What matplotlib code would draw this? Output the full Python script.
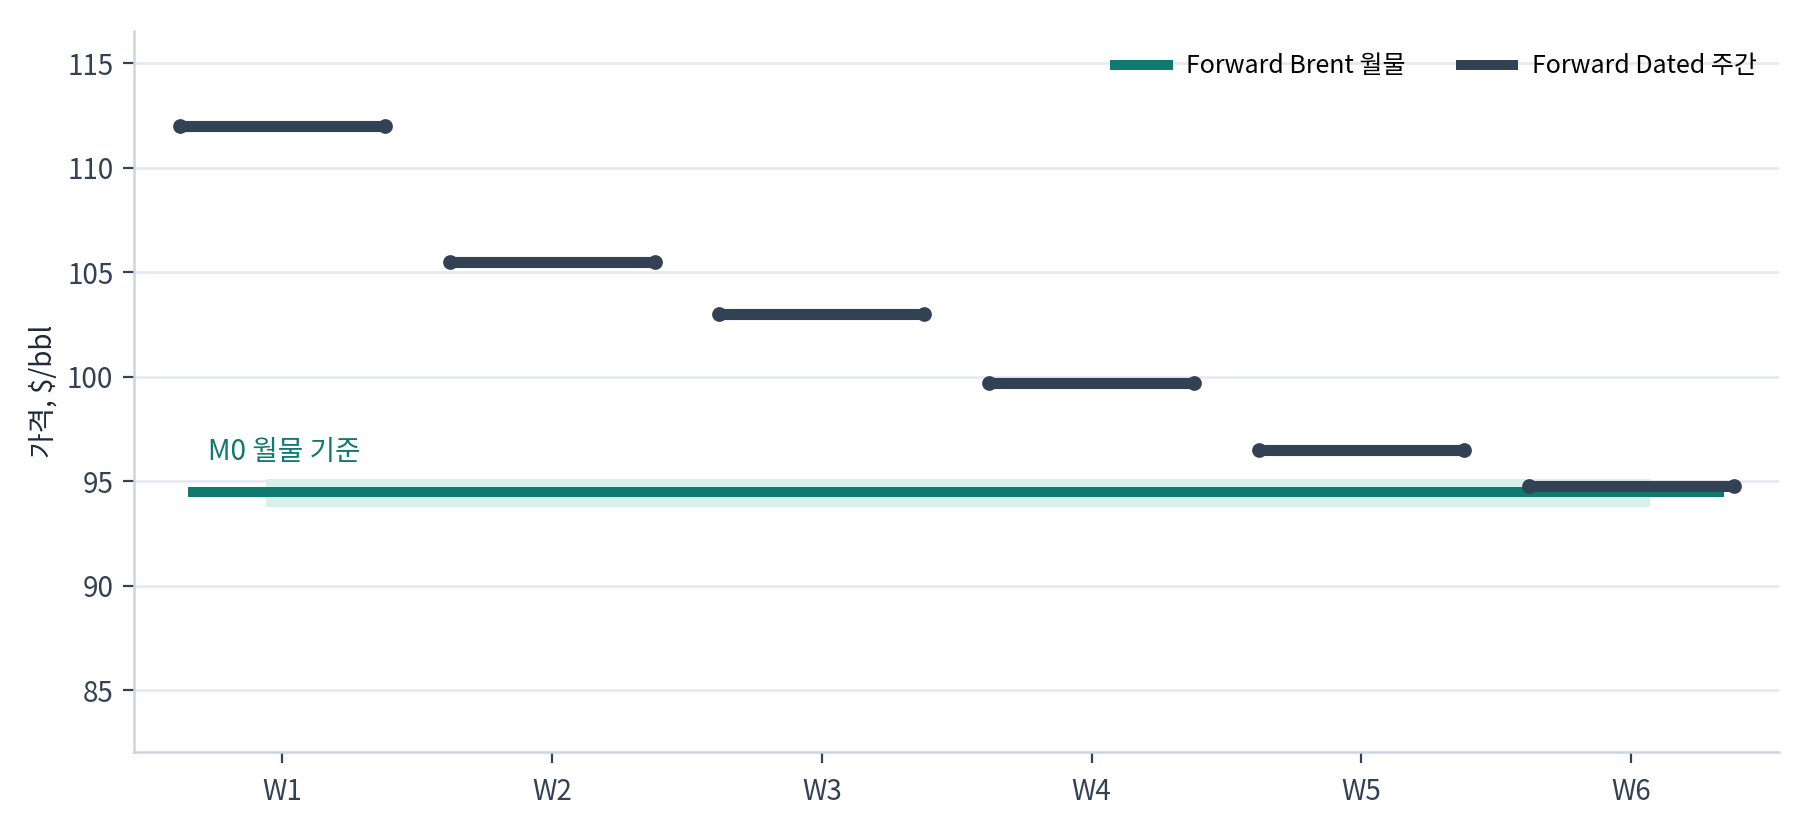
import matplotlib
matplotlib.use("Agg")
import matplotlib.pyplot as plt
from matplotlib.lines import Line2D
import numpy as np

plt.rcParams['font.family'] = ['Noto Sans CJK KR', 'DejaVu Sans']

weeks = ['W1', 'W2', 'W3', 'W4', 'W5', 'W6']
dated_weekly = [112.0, 105.5, 103.0, 99.7, 96.5, 94.8]
brent_m0 = 94.5
band_low, band_high = 93.75, 95.1
yticks = [85, 90, 95, 100, 105, 110, 115]
series_labels = ['Forward Brent 월물', 'Forward Dated 주간']

DARK = '#334155'
TEAL = '#0f7a70'
BAND = '#d8f0e8'
GRID = '#e2e8f0'
SPINE = '#cbd5e1'

fig = plt.figure(figsize=(9.06, 4.16), dpi=200)
ax = fig.add_axes([0.074, 0.096, 0.908, 0.867])

x = np.arange(len(weeks))
hw = 0.38

ax.fill_between([-0.06, 5.07], band_low, band_high, color=BAND, lw=0, zorder=1)
ax.plot([-0.35, 5.345], [brent_m0, brent_m0], color=TEAL, lw=3.6,
        solid_capstyle='butt', zorder=2)

for i, v in enumerate(dated_weekly):
    ax.plot([x[i] - hw, x[i] + hw], [v, v], color=DARK, lw=4,
            solid_capstyle='round', marker='o', ms=4.3, zorder=3)

ax.text(-0.275, 96.4, 'M0 월물 기준', color=TEAL, fontsize=10, va='center', ha='left')

ax.set_xlim(-0.55, 5.55)
ax.set_ylim(82.05, 116.55)
ax.set_xticks(x)
ax.set_xticklabels(weeks)
ax.set_yticks(yticks)
ax.grid(axis='y', color=GRID, lw=0.9, zorder=0)
ax.set_axisbelow(True)
for s in ['top', 'right']:
    ax.spines[s].set_visible(False)
for s in ['left', 'bottom']:
    ax.spines[s].set_color(SPINE)
    ax.spines[s].set_linewidth(0.9)
ax.tick_params(axis='both', colors=DARK, labelsize=10, length=4, width=0.8)
ax.tick_params(axis='x', pad=5)
ax.set_ylabel('가격, $/bbl', fontsize=10, color='#1e293b', labelpad=3)

h = [Line2D([], [], color=TEAL, lw=3.6), Line2D([], [], color=DARK, lw=3.6)]
ax.legend(h, series_labels, loc='upper right', ncol=2, frameon=False, fontsize=9,
          handlelength=2.1, handletextpad=0.75, columnspacing=2.2,
          bbox_to_anchor=(1.0, 1.0))

fig.savefig('out.png', dpi=200)
